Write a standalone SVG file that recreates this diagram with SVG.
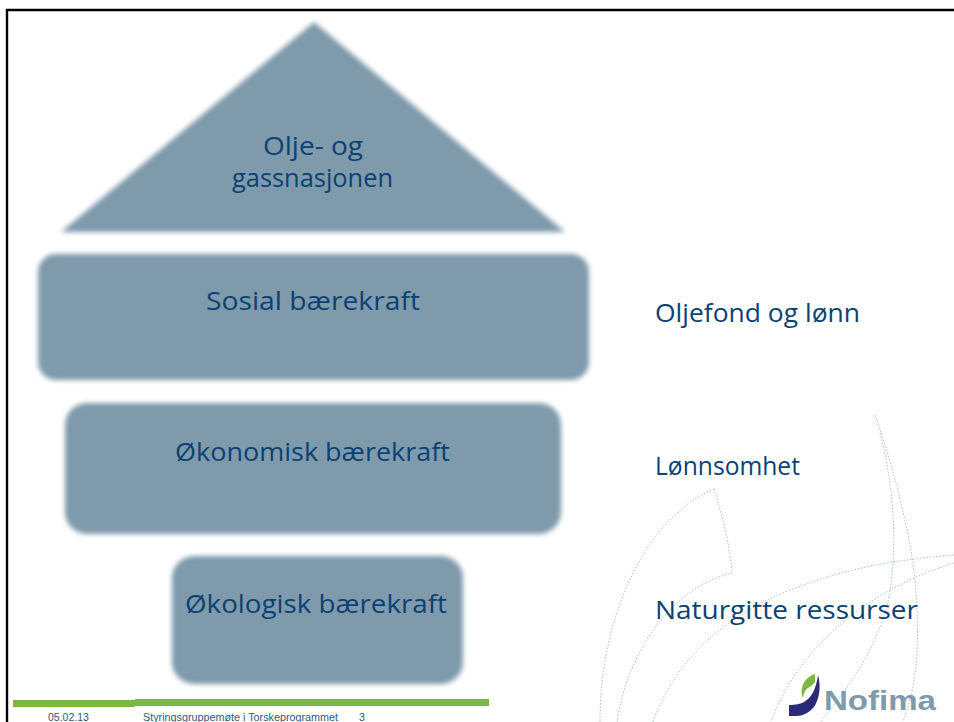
<svg xmlns="http://www.w3.org/2000/svg" width="954" height="722" viewBox="0 0 954 722">
<defs><filter id="b" x="-5%" y="-5%" width="110%" height="110%"><feGaussianBlur stdDeviation="2.5"/></filter></defs>
<style>
.s{fill:#7e9aab;filter:url(#b)}
.t{font-family:"Open Sans","Noto Sans",sans-serif;font-size:26px;fill:#0b4274;text-anchor:start}
.c{fill:none;stroke:#a8c0ce;stroke-width:1;stroke-dasharray:1.5 1.8}
.f{font-family:"Liberation Sans",sans-serif;font-size:10.5px;fill:#2c5a85}
</style>
<rect width="954" height="722" fill="#fff"/>
<path d="M7 722V10H954" fill="none" stroke="#000" stroke-width="2.4"/>
<g id="connectors">
<path class="c" d="M875 415C895 470 908 530 913 563C918 600 919 650 915 673C913 690 908 708 903 722"/>
<path class="c" d="M880 433C890 470 896 520 893 563C891 590 888 605 883 620C875 640 868 655 860 667C848 687 835 705 820 722"/>
<path class="c" d="M714 489C650 515 600 610 600 722"/>
<path class="c" d="M714 489C722 515 730 545 732 573C680 585 630 640 617 722"/>
<path class="c" d="M954 555C860 562 700 590 653 722"/>
<path class="c" d="M954 563C880 585 800 640 771 722"/>
</g>
<g id="roof"><path class="s" d="M314 22L565 232H61Z"/><text class="t" x="263" y="155" style="font-size:25px" textLength="100" lengthAdjust="spacingAndGlyphs">Olje- og</text><text class="t" x="232" y="187" style="font-size:25px" textLength="161" lengthAdjust="spacingAndGlyphs">gassnasjonen</text></g>
<g id="sosial"><rect class="s" x="38" y="254" width="551" height="126" rx="18"/><text class="t" x="206" y="310" textLength="214" lengthAdjust="spacingAndGlyphs">Sosial bærekraft</text></g>
<g id="okonomisk"><rect class="s" x="65" y="403" width="496" height="131" rx="22"/><text class="t" x="175" y="461" textLength="275" lengthAdjust="spacingAndGlyphs">Økonomisk bærekraft</text></g>
<g id="okologisk"><rect class="s" x="172" y="556" width="291" height="128" rx="22"/><text class="t" x="185" y="613" textLength="262" lengthAdjust="spacingAndGlyphs">Økologisk bærekraft</text></g>
<g id="oljefond"><text class="t" x="655" y="322" textLength="205" lengthAdjust="spacingAndGlyphs">Oljefond og lønn</text></g>
<g id="lonnsomhet"><text class="t" x="655" y="475" textLength="145" lengthAdjust="spacingAndGlyphs">Lønnsomhet</text></g>
<g id="naturgitte"><text class="t" x="655" y="619" textLength="263" lengthAdjust="spacingAndGlyphs">Naturgitte ressurser</text></g>
<g id="footer">
<rect x="13" y="700" width="122" height="7" fill="#7ab843"/><rect x="135" y="699" width="354" height="7" fill="#7ab843"/>
<text class="f" x="48" y="721">05.02.13</text><text class="f" x="143" y="721" textLength="195" lengthAdjust="spacingAndGlyphs">Styringsgruppemøte i Torskeprogrammet</text><text class="f" x="359" y="721">3</text>
</g>
<g id="logo">
<path d="M818 675C821 685 820 698 814 707C809 713 802 716 797 716H789V705C795 705 801 704 804 702C811 698 816 690 818 675Z" fill="#2a2a78"/>
<path d="M815 674C808 676 803 682 802 688C801 692 802 696 803 698C804 692 806 689 808 688C811 686 814 684 815 682Z" fill="#7ab843"/>
<text x="824" y="710" font-family="Liberation Sans,sans-serif" font-weight="700" font-size="28" fill="#7e9aab" textLength="112" lengthAdjust="spacingAndGlyphs">Nofima</text>
</g>
</svg>
